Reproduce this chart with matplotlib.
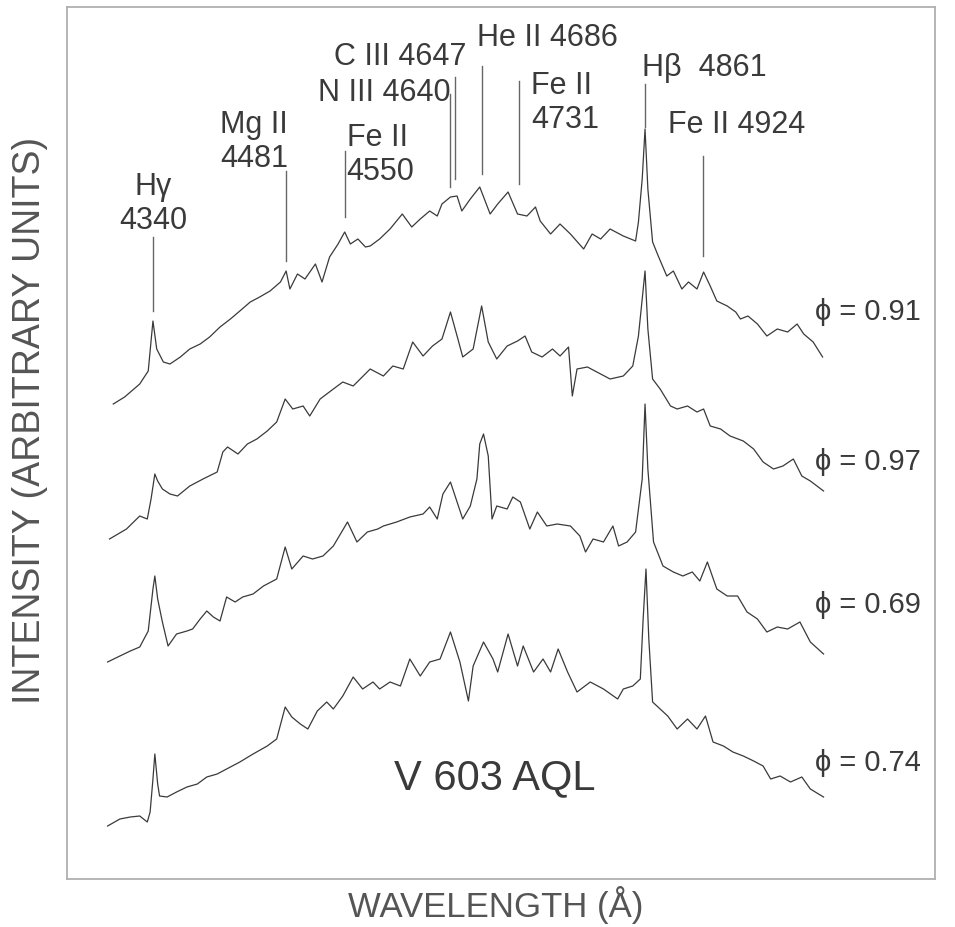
import numpy as np
import matplotlib
matplotlib.use("Agg")
import matplotlib.pyplot as plt

plt.rcParams["font.family"] = ["Liberation Sans", "DejaVu Sans"]

# spectra of V 603 Aql, wavelength (A) and intensity (arbitrary units, offset per phase)
wl_091 = [4298, 4310, 4326, 4335, 4340, 4344, 4351, 4358, 4369, 4379, 4390, 4400,
          4411, 4422, 4432, 4443, 4453, 4464, 4475, 4481, 4485, 4493, 4501, 4512,
          4519, 4527, 4536, 4543, 4549, 4557, 4565, 4570, 4580, 4591, 4604, 4614,
          4623, 4633, 4641, 4646, 4655, 4662, 4667, 4676, 4686, 4697, 4705, 4716,
          4726, 4736, 4745, 4750, 4761, 4771, 4782, 4796, 4805, 4814, 4824, 4838,
          4851, 4854, 4858, 4861, 4864, 4869, 4875, 4884, 4891, 4900, 4907, 4916,
          4923, 4930, 4937, 4948, 4957, 4962, 4970, 4980, 4990, 5001, 5012, 5022,
          5029, 5039, 5049]
int_091 = [475, 482, 495, 508, 558, 530, 517, 515, 522, 530, 535, 542,
           552, 560, 568, 577, 582, 588, 597, 608, 590, 605, 600, 615,
           597, 622, 635, 647, 635, 640, 632, 633, 640, 650, 665, 652,
           660, 668, 663, 675, 682, 683, 668, 680, 692, 665, 675, 687,
           665, 663, 672, 658, 645, 655, 645, 630, 645, 640, 650, 643,
           638, 657, 700, 750, 690, 637, 623, 603, 608, 590, 597, 590,
           607, 593, 578, 573, 567, 560, 563, 555, 543, 550, 547, 555,
           545, 537, 522]

wl_097 = [4294, 4312, 4326, 4334, 4338, 4342, 4345, 4350, 4358, 4366, 4379, 4393,
          4408, 4414, 4419, 4430, 4440, 4450, 4461, 4471, 4480, 4488, 4499, 4506,
          4517, 4531, 4541, 4552, 4570, 4584, 4594, 4605, 4615, 4626, 4636, 4646,
          4655, 4662, 4668, 4679, 4688, 4695, 4704, 4715, 4726, 4734, 4741, 4752,
          4763, 4771, 4780, 4784, 4789, 4800, 4814, 4824, 4838, 4848, 4854, 4858,
          4861, 4864, 4869, 4877, 4888, 4895, 4906, 4916, 4923, 4930, 4941, 4951,
          4965, 4976, 4986, 4997, 5007, 5018, 5027, 5036, 5050]
int_097 = [340, 350, 363, 360, 380, 405, 398, 390, 385, 383, 393, 400,
           407, 427, 432, 425, 435, 440, 448, 457, 480, 470, 473, 463,
           480, 490, 497, 493, 510, 503, 513, 510, 537, 523, 533, 540,
           567, 543, 522, 530, 573, 537, 520, 533, 538, 543, 527, 522,
           530, 523, 532, 483, 510, 512, 505, 500, 503, 513, 543, 580,
           608, 550, 500, 490, 473, 470, 473, 467, 470, 453, 450, 443,
           438, 430, 417, 410, 413, 420, 403, 398, 388]

wl_069 = [4292, 4305, 4316, 4326, 4335, 4340, 4342, 4345, 4350, 4356, 4365, 4376,
          4382, 4390, 4397, 4404, 4411, 4418, 4427, 4435, 4446, 4457, 4471, 4480,
          4487, 4499, 4509, 4520, 4531, 4546, 4556, 4567, 4578, 4584, 4598, 4612,
          4626, 4633, 4641, 4647, 4655, 4662, 4668, 4676, 4683, 4686, 4690, 4695,
          4699, 4704, 4715, 4721, 4729, 4739, 4747, 4757, 4768, 4782, 4792, 4798,
          4806, 4817, 4827, 4833, 4842, 4851, 4858, 4861, 4864, 4870, 4880, 4891,
          4901, 4911, 4919, 4927, 4937, 4948, 4959, 4969, 4980, 4990, 5001, 5012,
          5025, 5036, 5050]
int_069 = [217, 223, 228, 232, 248, 290, 303, 280, 257, 233, 245, 248,
           250, 260, 268, 262, 258, 282, 277, 282, 285, 293, 300, 332,
           310, 323, 320, 323, 333, 357, 337, 347, 350, 353, 357, 362,
           365, 372, 360, 385, 397, 377, 360, 373, 400, 435, 445, 423,
           360, 373, 370, 382, 377, 350, 367, 353, 355, 353, 343, 327,
           340, 337, 353, 333, 337, 347, 400, 475, 410, 337, 313, 307,
           303, 307, 298, 317, 290, 283, 283, 267, 260, 247, 252, 250,
           257, 237, 225]

wl_074 = [4292, 4305, 4316, 4326, 4334, 4337, 4340, 4342, 4345, 4347, 4355, 4365,
          4376, 4387, 4397, 4408, 4418, 4432, 4446, 4461, 4471, 4480, 4487, 4496,
          4504, 4514, 4524, 4531, 4541, 4552, 4562, 4573, 4580, 4591, 4602, 4612,
          4623, 4633, 4644, 4655, 4665, 4674, 4679, 4690, 4700, 4705, 4716, 4726,
          4732, 4743, 4753, 4761, 4769, 4779, 4789, 4803, 4817, 4832, 4838, 4848,
          4856, 4859, 4862, 4865, 4869, 4877, 4885, 4895, 4906, 4916, 4925, 4933,
          4944, 4954, 4965, 4976, 4986, 4994, 5004, 5015, 5027, 5036, 5050]
int_074 = [53, 60, 62, 63, 57, 67, 100, 125, 95, 83, 82, 87,
           92, 95, 102, 105, 110, 117, 125, 133, 140, 172, 162, 155,
           150, 168, 177, 170, 183, 202, 190, 197, 190, 197, 193, 220,
           203, 217, 220, 247, 217, 178, 213, 237, 220, 207, 245, 213,
           233, 207, 220, 207, 230, 207, 187, 197, 190, 180, 190, 193,
           200, 260, 310, 240, 177, 170, 163, 150, 160, 150, 163, 137,
           133, 127, 123, 118, 113, 100, 103, 97, 102, 90, 82]

phases = ["0.91", "0.97", "0.69", "0.74"]
phase_y = [568, 418, 275, 117]

# line identifications: label text, marker wavelength, marker top / bottom
line_names = ["H\u03b3\n4340", "Mg II\n4481", "Fe II\n4550", "N III 4640", "C III 4647",
              "He II 4686", "Fe II\n4731", "H\u03b2  4861", "Fe II 4924"]
marker_wl = [4340, 4481, 4543, 4655, 4660, 4688, 4728, 4861, 4922]
marker_top = [642, 708, 728, 785, 802, 813, 798, 795, 723]
marker_bot = [568, 618, 662, 692, 700, 705, 695, 752, 623]
# label anchor (x, y, ha)
label_pos = [(4340, 676, "center"), (4447, 738, "center"), (4545, 725, "left"),
             (4655, 787, "right"), (4672, 823, "right"), (4683, 842, "left"),
             (4740, 777, "left"), (4858, 812, "left"), (4885, 755, "left")]

fig = plt.figure(figsize=(9.55, 9.28), dpi=100)
ax = fig.add_axes([67/955, 48/928, 868/955, 872/928])

ink = "#3a3a3a"
for wl, fl in [(wl_091, int_091), (wl_097, int_097), (wl_069, int_069), (wl_074, int_074)]:
    ax.plot(wl, fl, color=ink, lw=0.9)

for x, t, b in zip(marker_wl, marker_top, marker_bot):
    ax.plot([x, x], [b, t], color="#666666", lw=1.0)

for name, (x, y, ha) in zip(line_names, label_pos):
    ax.text(x, y, name, ha=ha, va="center", fontsize=22, color=ink,
            linespacing=1.2)

for ph, y in zip(phases, phase_y):
    ax.text(5041, y, "\u03d5 = " + ph, ha="left", va="center", fontsize=21, color=ink)

ax.text(4702, 102, "V 603 AQL", ha="center", va="center", fontsize=30, color=ink)

ax.set_xlim(4249, 5168)
ax.set_ylim(0, 872)
ax.set_xticks([])
ax.set_yticks([])
for s in ax.spines.values():
    s.set_color("#b0b0b0")
    s.set_linewidth(1.3)

fig.text(496/955, 1 - 905/928, "WAVELENGTH (\u00c5)", ha="center", va="center",
         fontsize=25, color="#555555")
fig.text(30/955, 1 - 420/928, "INTENSITY (ARBITRARY UNITS)", ha="center", va="center",
         rotation=90, fontsize=27, color="#555555")

fig.savefig("out.png", dpi=100)
